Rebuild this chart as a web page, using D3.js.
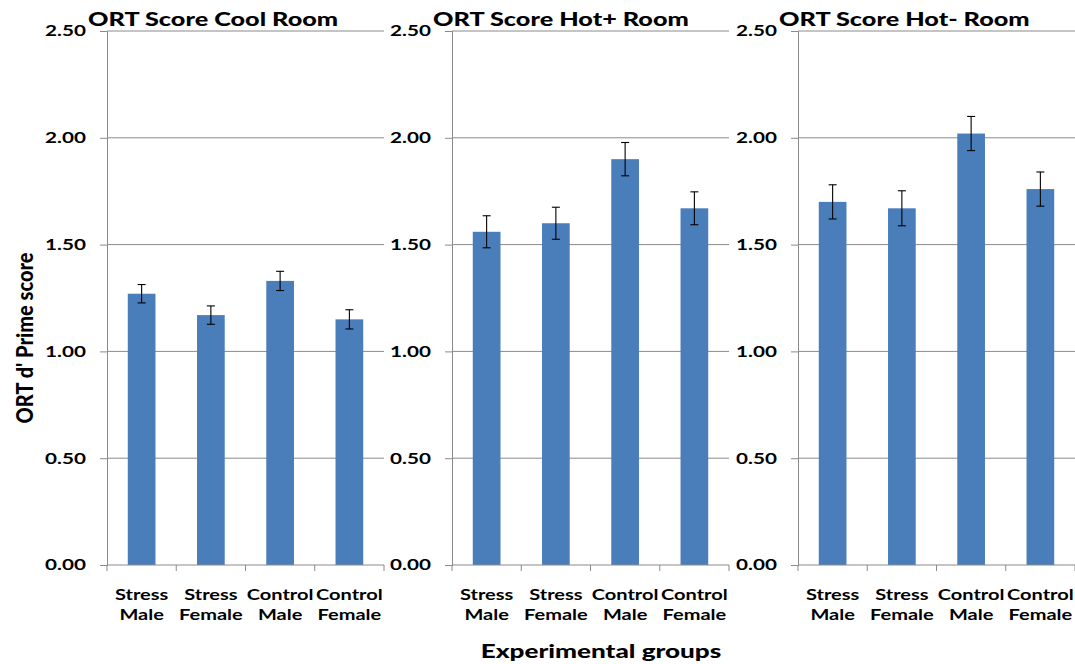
<!DOCTYPE html>
<html>
<head>
<meta charset="utf-8">
<script src="https://cdn.jsdelivr.net/npm/d3@7"></script>
<style>
  body { margin: 0; background: #fff; }
  text { font-family: Lato, "Open Sans", sans-serif; font-weight: bold; fill: #000; }
  .heavy { font-weight: 900; }
</style>
</head>
<body>
<svg id="chart" width="1075" height="664"></svg>
<script>
// groups on the x axis (two lines each)
const groups = [["Stress", "Male"], ["Stress", "Female"], ["Control", "Male"], ["Control", "Female"]];
const titles = ["ORT Score Cool Room", "ORT Score Hot+ Room", "ORT Score Hot- Room"];
// mean d' per group, one array per room
const coolMeans = [1.27, 1.17, 1.33, 1.15];
const hotPlusMeans = [1.56, 1.60, 1.90, 1.67];
const hotMinusMeans = [1.70, 1.67, 2.02, 1.76];
// error bar half lengths
const coolErr = [0.043, 0.043, 0.045, 0.045];
const hotPlusErr = [0.075, 0.075, 0.078, 0.077];
const hotMinusErr = [0.08, 0.082, 0.08, 0.08];
const yTicks = [0, 0.5, 1, 1.5, 2, 2.5];

const panels = [
  {title: titles[0], means: coolMeans, err: coolErr, left: 107},
  {title: titles[1], means: hotPlusMeans, err: hotPlusErr, left: 452},
  {title: titles[2], means: hotMinusMeans, err: hotMinusErr, left: 798}
];

const svg = d3.select("#chart");
const plotTop = 31, plotBottom = 565, panelW = 277;
const gridCol = "#8a8a8a";

const y = d3.scaleLinear().domain([0, 2.5]).range([plotBottom, plotTop]);

panels.forEach(p => {
  const g = svg.append("g").attr("transform", `translate(${p.left},0)`);
  const x = d3.scaleBand()
    .domain(groups.map((d, i) => i))
    .range([0, panelW])
    .paddingInner(0.6)
    .paddingOuter(0.3);

  // gridlines
  g.selectAll("line.grid")
    .data(yTicks.filter(t => t > 0))
    .enter().append("line")
    .attr("class", "grid")
    .attr("x1", 0).attr("x2", panelW)
    .attr("y1", d => y(d)).attr("y2", d => y(d))
    .attr("stroke", gridCol).attr("stroke-width", 1);

  // y axis
  const yAxis = g.append("g")
    .call(d3.axisLeft(y).tickValues(yTicks).tickFormat(d3.format(".2f")).tickSize(7));
  yAxis.select(".domain").attr("stroke", gridCol);
  yAxis.selectAll(".tick line").attr("stroke", gridCol);
  // the source picture is stretched sideways, so labels get a wider x scale
  yAxis.selectAll(".tick text")
    .attr("x", 0)
    .attr("transform", "translate(-21,0) scale(1.38,1)")
    .style("font-size", "15px");

  // bars
  g.selectAll("rect.bar")
    .data(p.means)
    .enter().append("rect")
    .attr("class", "bar")
    .attr("x", (d, i) => x(i))
    .attr("width", x.bandwidth())
    .attr("y", d => y(d))
    .attr("height", d => plotBottom - y(d))
    .attr("fill", "#4a7ebb");

  // error bars
  const eb = g.selectAll("g.err")
    .data(p.means.map((m, i) => ({m: m, e: p.err[i], i: i})))
    .enter().append("g").attr("class", "err")
    .attr("stroke", "#000").attr("stroke-width", 1.1);
  eb.append("line")
    .attr("x1", d => x(d.i) + x.bandwidth() / 2).attr("x2", d => x(d.i) + x.bandwidth() / 2)
    .attr("y1", d => y(d.m + d.e)).attr("y2", d => y(d.m - d.e));
  eb.append("line")
    .attr("x1", d => x(d.i) + x.bandwidth() / 2 - 4).attr("x2", d => x(d.i) + x.bandwidth() / 2 + 4)
    .attr("y1", d => y(d.m + d.e)).attr("y2", d => y(d.m + d.e));
  eb.append("line")
    .attr("x1", d => x(d.i) + x.bandwidth() / 2 - 4).attr("x2", d => x(d.i) + x.bandwidth() / 2 + 4)
    .attr("y1", d => y(d.m - d.e)).attr("y2", d => y(d.m - d.e));

  // x axis line and tick marks between groups
  g.append("line")
    .attr("x1", 0).attr("x2", panelW)
    .attr("y1", plotBottom).attr("y2", plotBottom)
    .attr("stroke", gridCol);
  g.selectAll("line.xt")
    .data(d3.range(groups.length + 1))
    .enter().append("line")
    .attr("class", "xt")
    .attr("x1", d => d * panelW / groups.length).attr("x2", d => d * panelW / groups.length)
    .attr("y1", plotBottom).attr("y2", plotBottom + 6)
    .attr("stroke", gridCol);

  // group labels
  const lab = g.selectAll("text.grp")
    .data(groups)
    .enter().append("text")
    .attr("class", "grp")
    .attr("text-anchor", "middle")
    .style("font-size", "16px")
    .attr("transform", (d, i) => `translate(${x(i) + x.bandwidth() / 2},${plotBottom + 35}) scale(1.25,1)`);
  lab.append("tspan").attr("x", 0).attr("y", 0).text(d => d[0]);
  lab.append("tspan").attr("x", 0).attr("y", 20).text(d => d[1]);

  // title
  g.append("text")
    .attr("class", "heavy")
    .attr("transform", "translate(-19,26) scale(1.33,1)")
    .style("font-size", "19px")
    .text(p.title);
});

svg.append("text")
  .attr("class", "heavy")
  .attr("transform", "translate(33,338) scale(1.15,1) rotate(-90)")
  .attr("text-anchor", "middle")
  .style("font-size", "20px")
  .text("ORT d' Prime score");

svg.append("text")
  .attr("class", "heavy")
  .attr("transform", "translate(601,658) scale(1.45,1)")
  .attr("text-anchor", "middle")
  .style("font-size", "18px")
  .text("Experimental groups");
</script>
</body>
</html>
